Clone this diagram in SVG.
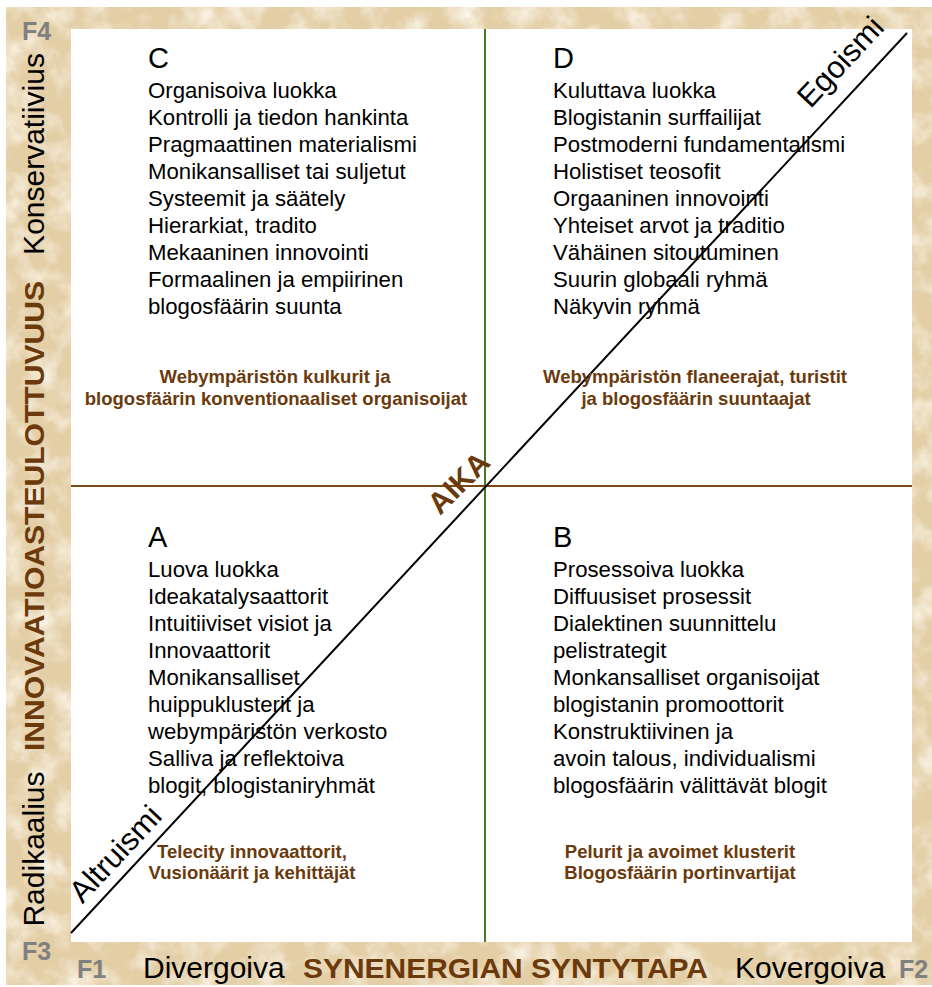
<svg xmlns="http://www.w3.org/2000/svg" width="932" height="987" viewBox="0 0 932 987">
<defs>
<filter id="paper" x="0" y="0" width="100%" height="100%">
<feTurbulence type="fractalNoise" baseFrequency="0.035" numOctaves="4" seed="7" result="n"/>
<feColorMatrix in="n" type="matrix" values="0 0 0 0 1  0 0 0 0 0.97  0 0 0 0 0.9  1.8 0 0 0 -0.75"/>
</filter>
<style>
.body{font-family:"Liberation Sans",Arial,sans-serif;font-size:22.2px;fill:#000}
.letter{font-family:"Liberation Sans",Arial,sans-serif;font-size:29px;fill:#000}
.cap{font-family:"Liberation Sans",Arial,sans-serif;font-size:18.5px;font-weight:bold;fill:#6B3A0C;text-anchor:middle}
.axis{font-family:"Liberation Sans",Arial,sans-serif;font-size:30px;fill:#000}
.axisb{font-family:"Liberation Sans",Arial,sans-serif;font-size:28px;font-weight:bold;fill:#6B3A0C}
.aika{font-family:"Liberation Sans",Arial,sans-serif;font-size:30px;font-weight:bold;fill:#6B3A0C;text-anchor:middle}
.f{font-family:"Liberation Sans",Arial,sans-serif;font-size:25px;font-weight:bold;fill:#808080}
.diag{font-family:"Liberation Sans",Arial,sans-serif;font-size:31px;fill:#000;text-anchor:middle}
</style>
</defs>
<rect x="0" y="0" width="932" height="987" fill="#ffffff"/>
<rect x="6" y="7" width="926" height="978" fill="#E3CEA6"/>
<rect x="6" y="7" width="926" height="978" filter="url(#paper)"/>
<rect x="71" y="29" width="841" height="913" fill="#ffffff"/>

<g id="connectors">
<line x1="485" y1="29" x2="485" y2="942" stroke="#4A7A1E" stroke-width="2"/>
<line x1="71" y1="486" x2="912" y2="486" stroke="#7A4A16" stroke-width="2"/>
<line x1="71" y1="933" x2="907" y2="33" stroke="#000" stroke-width="2"/>
</g>

<g id="quadC">
<text class="letter" x="148" y="68">C</text>
<text class="body" x="148" y="98">Organisoiva luokka</text>
<text class="body" x="148" y="125">Kontrolli ja tiedon hankinta</text>
<text class="body" x="148" y="152">Pragmaattinen materialismi</text>
<text class="body" x="148" y="179">Monikansalliset tai suljetut</text>
<text class="body" x="148" y="206">Systeemit ja säätely</text>
<text class="body" x="148" y="233">Hierarkiat, tradito</text>
<text class="body" x="148" y="260">Mekaaninen innovointi</text>
<text class="body" x="148" y="287">Formaalinen ja empiirinen</text>
<text class="body" x="148" y="314">blogosfäärin suunta</text>
<text class="cap" x="275" y="383">Webympäristön kulkurit ja</text>
<text class="cap" x="276" y="405">blogosfäärin konventionaaliset organisoijat</text>
</g>

<g id="quadD">
<text class="letter" x="553" y="68">D</text>
<text class="body" x="553" y="98">Kuluttava luokka</text>
<text class="body" x="553" y="125">Blogistanin surffailijat</text>
<text class="body" x="553" y="152">Postmoderni fundamentalismi</text>
<text class="body" x="553" y="179">Holistiset teosofit</text>
<text class="body" x="553" y="206">Orgaaninen innovointi</text>
<text class="body" x="553" y="233">Yhteiset arvot ja traditio</text>
<text class="body" x="553" y="260">Vähäinen sitoutuminen</text>
<text class="body" x="553" y="287">Suurin globaali ryhmä</text>
<text class="body" x="553" y="314">Näkyvin ryhmä</text>
<text class="cap" x="695" y="383">Webympäristön flaneerajat, turistit</text>
<text class="cap" x="696" y="405">ja blogosfäärin suuntaajat</text>
</g>

<g id="quadA">
<text class="letter" x="148" y="547">A</text>
<text class="body" x="148" y="577">Luova luokka</text>
<text class="body" x="148" y="604">Ideakatalysaattorit</text>
<text class="body" x="148" y="631">Intuitiiviset visiot ja</text>
<text class="body" x="148" y="658">Innovaattorit</text>
<text class="body" x="148" y="685">Monikansalliset</text>
<text class="body" x="148" y="712">huippuklusterit ja</text>
<text class="body" x="148" y="739">webympäristön verkosto</text>
<text class="body" x="148" y="766">Salliva ja reflektoiva</text>
<text class="body" x="148" y="793">blogit, blogistaniryhmät</text>
<text class="cap" x="252" y="858">Telecity innovaattorit,</text>
<text class="cap" x="252" y="879">Vusionäärit ja kehittäjät</text>
</g>

<g id="quadB">
<text class="letter" x="553" y="547">B</text>
<text class="body" x="553" y="577">Prosessoiva luokka</text>
<text class="body" x="553" y="604">Diffuusiset prosessit</text>
<text class="body" x="553" y="631">Dialektinen suunnittelu</text>
<text class="body" x="553" y="658">pelistrategit</text>
<text class="body" x="553" y="685">Monkansalliset organisoijat</text>
<text class="body" x="553" y="712">blogistanin promoottorit</text>
<text class="body" x="553" y="739">Konstruktiivinen ja</text>
<text class="body" x="553" y="766">avoin talous, individualismi</text>
<text class="body" x="553" y="793">blogosfäärin välittävät blogit</text>
<text class="cap" x="680" y="858">Pelurit ja avoimet klusterit</text>
<text class="cap" x="680" y="879">Blogosfäärin portinvartijat</text>
</g>

<g id="diagonal-labels">
<text class="diag" transform="translate(848,69) rotate(-47)">Egoismi</text>
<text class="diag" transform="translate(123,861) rotate(-47)">Altruismi</text>
<text class="aika" transform="translate(466,490) rotate(-45)">AIKA</text>
</g>

<g id="axis-left">
<text class="axis" text-anchor="middle" transform="translate(44,154) rotate(-90)">Konservatiivius</text>
<text class="axisb" text-anchor="middle" textLength="470" lengthAdjust="spacingAndGlyphs" transform="translate(44,516) rotate(-90)">INNOVAATIOASTEULOTTUVUUS</text>
<text class="axis" text-anchor="middle" transform="translate(44,849) rotate(-90)">Radikaalius</text>
</g>

<g id="axis-bottom">
<text class="axis" x="143" y="978">Divergoiva</text>
<text class="axisb" x="303" y="978" textLength="405" lengthAdjust="spacingAndGlyphs">SYNENERGIAN SYNTYTAPA</text>
<text class="axis" x="735" y="978">Kovergoiva</text>
</g>

<g id="corners">
<text class="f" x="22" y="40">F4</text>
<text class="f" x="22" y="960">F3</text>
<text class="f" x="77" y="978">F1</text>
<text class="f" x="899" y="978">F2</text>
</g>
</svg>
